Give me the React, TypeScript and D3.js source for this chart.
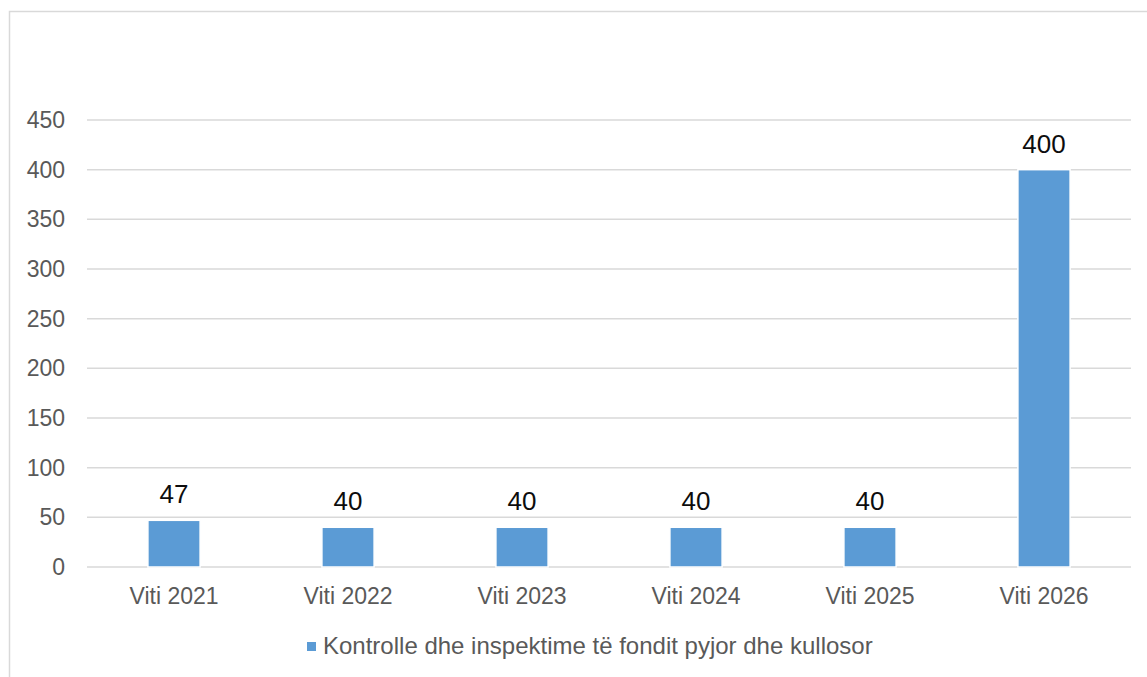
import React from "react";
import * as d3 from "d3";

const categories = ["Viti 2021", "Viti 2022", "Viti 2023", "Viti 2024", "Viti 2025", "Viti 2026"];
const values = [47, 40, 40, 40, 40, 400];
const yTicks = [0, 50, 100, 150, 200, 250, 300, 350, 400, 450];
const seriesName = "Kontrolle dhe inspektime të fondit pyjor dhe kullosor";

const W = 1147;
const H = 677;
const FONT = "'Liberation Sans', Arial, sans-serif";

export default function App() {
  const x = d3.scaleBand<string>().domain(categories).range([87, 1131]).paddingInner(0.7).paddingOuter(0.35);
  const y = d3.scaleLinear().domain([0, 450]).range([567, 120]);

  return (
    <svg width={W} height={H} style={{ position: "absolute", left: 0, top: 0, background: "#fff" }}>
      <rect x={9.5} y={11.5} width={W + 10} height={H + 10} fill="#fff" stroke="#d9d9d9" strokeWidth={1.5} />
      {yTicks.map((t) => (
        <g key={t}>
          <line x1={87} x2={1131} y1={y(t)} y2={y(t)} stroke="#d9d9d9" strokeWidth={1.5} />
          <text x={65} y={y(t)} dy="0.35em" textAnchor="end" fontFamily={FONT} fontSize={23} fill="#595959">
            {t}
          </text>
        </g>
      ))}
      {categories.map((c, i) => (
        <g key={c}>
          <rect
            x={x(c)!}
            y={y(values[i])}
            width={x.bandwidth()}
            height={y(0) - y(values[i])}
            fill="#5b9bd5"
            stroke="#fff"
            strokeWidth={1.5}
          />
          <text
            x={x(c)! + x.bandwidth() / 2}
            y={y(values[i]) - 26}
            dy="0.35em"
            textAnchor="middle"
            fontFamily={FONT}
            fontSize={26}
            fill="#0d0d0d"
          >
            {values[i]}
          </text>
          <text
            x={x(c)! + x.bandwidth() / 2}
            y={596}
            dy="0.35em"
            textAnchor="middle"
            fontFamily={FONT}
            fontSize={23}
            fill="#595959"
          >
            {c}
          </text>
        </g>
      ))}
      <rect x={307} y={642} width={9} height={9} fill="#5b9bd5" />
      <text x={323} y={654} fontFamily={FONT} fontSize={24} fill="#595959">
        {seriesName}
      </text>
    </svg>
  );
}
